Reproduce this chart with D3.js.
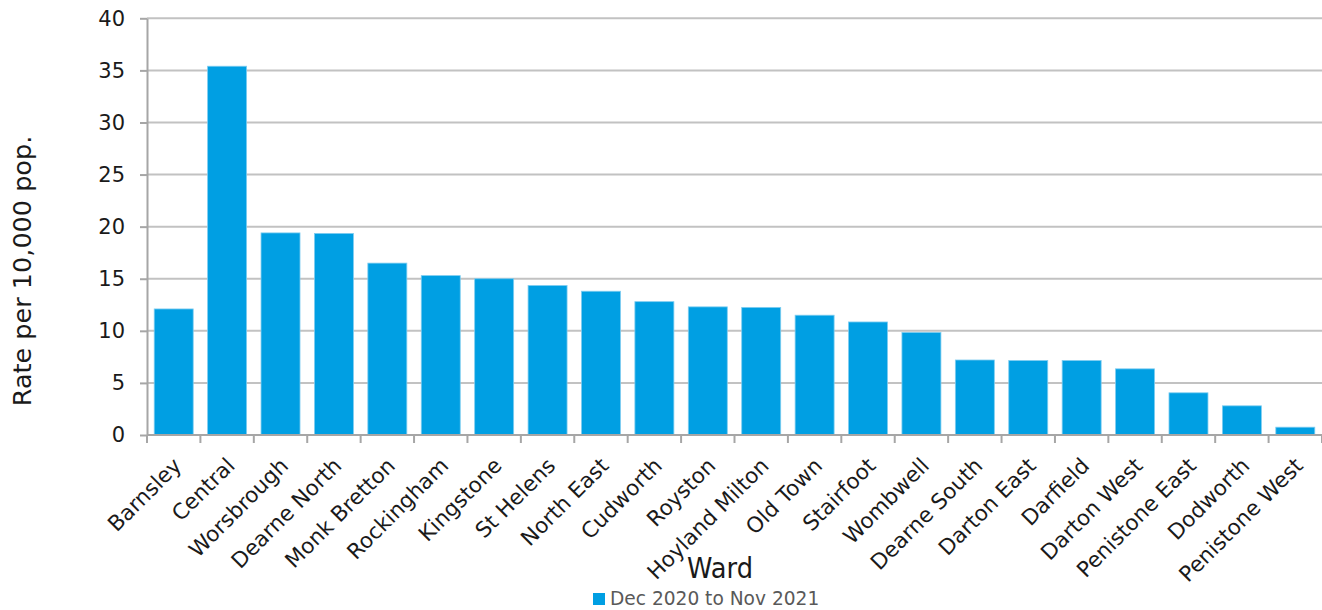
<!DOCTYPE html>
<html>
<head>
<meta charset="utf-8">
<script src="https://cdn.jsdelivr.net/npm/d3@7"></script>
<style>
  body { margin: 0; background: #fff; }
  text { font-family: "DejaVu Sans", Verdana, sans-serif; }
</style>
</head>
<body>
<div id="chart"></div>
<script>
var svgWidth = 1322;
var svgHeight = 610;

// wards and rates
var wards = ["Barnsley", "Central", "Worsbrough", "Dearne North", "Monk Bretton",
  "Rockingham", "Kingstone", "St Helens", "North East", "Cudworth", "Royston",
  "Hoyland Milton", "Old Town", "Stairfoot", "Wombwell", "Dearne South",
  "Darton East", "Darfield", "Darton West", "Penistone East", "Dodworth", "Penistone West"];
var rates = [12.1, 35.4, 19.4, 19.35, 16.5, 15.3, 15.0, 14.35, 13.8, 12.8, 12.3,
  12.25, 11.5, 10.85, 9.85, 7.2, 7.15, 7.15, 6.35, 4.05, 2.8, 0.75];
var yTicks = [0, 5, 10, 15, 20, 25, 30, 35, 40];
var seriesName = "Dec 2020 to Nov 2021";

var margin = { top: 18.3, right: 0, bottom: 175, left: 147 };
const width = svgWidth - margin.left - margin.right;
const height = 435 - margin.top;

const svg = d3.select("#chart")
  .append("svg")
  .attr("width", svgWidth)
  .attr("height", svgHeight);

const chartGroup = svg.append("g")
  .attr("transform", `translate(${margin.left}, ${margin.top})`);

var xBand = d3.scaleBand()
  .domain(wards)
  .range([0, width])
  .paddingInner(0.27)
  .paddingOuter(0.135);

var yLinear = d3.scaleLinear()
  .domain([0, 40])
  .range([height, 0]);

// gridlines
chartGroup.append("g")
  .selectAll("line")
  .data(yTicks.filter(d => d > 0))
  .enter()
  .append("line")
  .attr("x1", 0)
  .attr("x2", width)
  .attr("y1", d => yLinear(d))
  .attr("y2", d => yLinear(d))
  .attr("stroke", "#c2c2c2")
  .attr("stroke-width", 2);

// bars
chartGroup.selectAll("rect")
  .data(rates)
  .enter()
  .append("rect")
  .attr("x", (d, i) => xBand(wards[i]))
  .attr("y", d => yLinear(d))
  .attr("width", xBand.bandwidth())
  .attr("height", d => height - yLinear(d))
  .attr("fill", "#009fe3")
  .attr("stroke", "#7fcdf0")
  .attr("stroke-width", 0.8);

// y axis
var leftAxis = d3.axisLeft(yLinear)
  .tickValues(yTicks)
  .tickSizeInner(7)
  .tickSizeOuter(0)
  .tickPadding(15);

var yAxis = chartGroup.append("g").call(leftAxis);
yAxis.select(".domain").attr("stroke", "#a6a6a6").attr("stroke-width", 2);
yAxis.selectAll(".tick line").attr("stroke", "#a6a6a6").attr("stroke-width", 2);
yAxis.selectAll(".tick text")
  .attr("font-size", 21)
  .attr("fill", "#1a1a1a")
  .style("font-family", "'DejaVu Sans', Verdana, sans-serif");

// x axis, ticks on the band edges
var xAxis = chartGroup.append("g")
  .attr("transform", `translate(0, ${height})`);

xAxis.append("line")
  .attr("x1", 0)
  .attr("x2", width)
  .attr("stroke", "#a6a6a6")
  .attr("stroke-width", 2);

var edges = wards.map(w => xBand(w) - xBand.step() * xBand.paddingOuter());
edges.push(width);

xAxis.selectAll(".edge")
  .data(edges)
  .enter()
  .append("line")
  .attr("class", "edge")
  .attr("x1", d => d)
  .attr("x2", d => d)
  .attr("y1", 0)
  .attr("y2", 8)
  .attr("stroke", "#a6a6a6")
  .attr("stroke-width", 2);

xAxis.selectAll(".label")
  .data(wards)
  .enter()
  .append("text")
  .attr("class", "label")
  .attr("text-anchor", "end")
  .attr("font-size", 21.5)
  .attr("fill", "#1a1a1a")
  .attr("transform", d => `translate(${xBand(d) + xBand.bandwidth() / 2 + 9}, 32) rotate(-45)`)
  .text(d => d);

// axis titles
svg.append("text")
  .attr("transform", "translate(31, 271) rotate(-90)")
  .attr("text-anchor", "middle")
  .attr("font-size", 25.5)
  .attr("fill", "#1a1a1a")
  .text("Rate per 10,000 pop.");

svg.append("text")
  .attr("x", 687)
  .attr("y", 578)
  .attr("font-size", 28)
  .attr("textLength", 66)
  .attr("lengthAdjust", "spacingAndGlyphs")
  .attr("fill", "#1a1a1a")
  .text("Ward");

// legend
var legend = svg.append("g")
  .attr("transform", "translate(593, 593)");

legend.append("rect")
  .attr("width", 12)
  .attr("height", 12)
  .attr("fill", "#009fe3");

legend.append("text")
  .attr("x", 17)
  .attr("y", 12)
  .attr("font-size", 18.6)
  .attr("fill", "#595959")
  .text(seriesName);
</script>
</body>
</html>
